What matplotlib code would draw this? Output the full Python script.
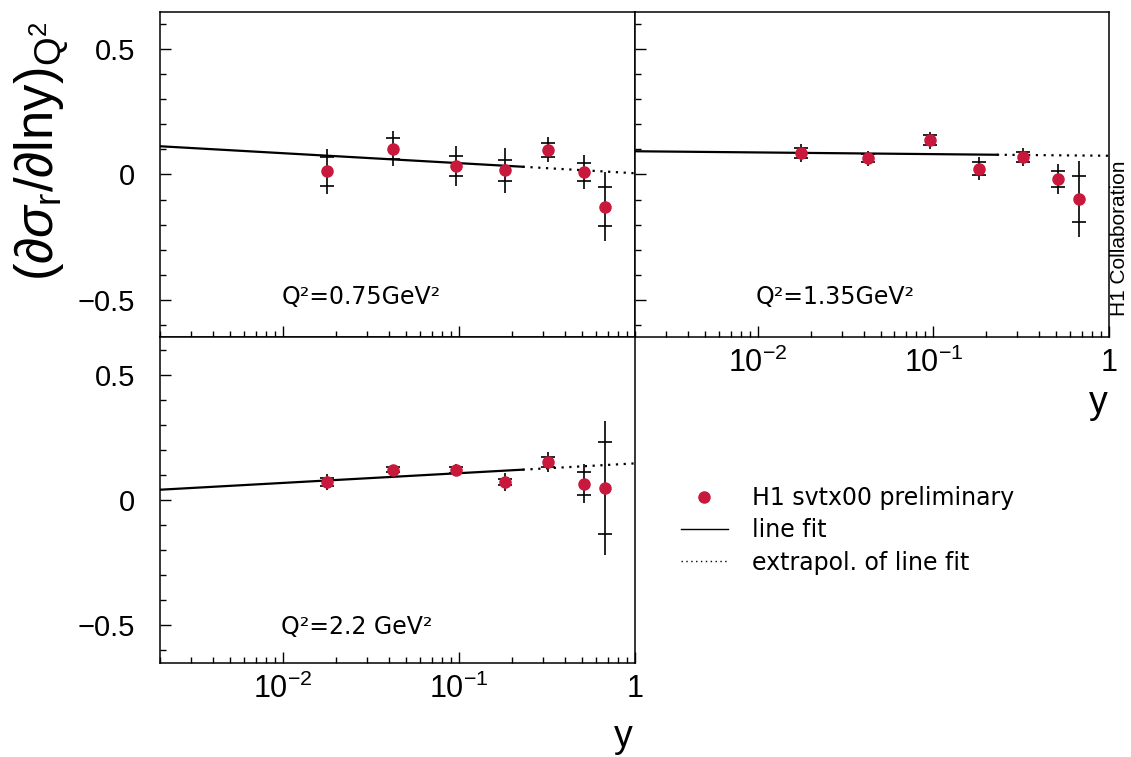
import matplotlib
matplotlib.use('Agg')
import matplotlib.pyplot as plt
from matplotlib.ticker import MultipleLocator, FixedLocator, FixedFormatter
from matplotlib.lines import Line2D

plt.rcParams['font.family'] = ['Liberation Sans', 'DejaVu Sans']
plt.rcParams['mathtext.fontset'] = 'custom'
plt.rcParams['mathtext.rm'] = 'Liberation Sans'
plt.rcParams['mathtext.it'] = 'Liberation Sans:italic'

RED = '#c8193c'

# y bin centres (same for all Q2 panels)
y_bins = [0.0177, 0.0423, 0.0957, 0.182, 0.322, 0.514, 0.674]

q2_labels = ['Q²=0.75GeV²', 'Q²=1.35GeV²', 'Q²=2.2 GeV²']

slope_075 = [0.012, 0.103, 0.035, 0.016, 0.099, 0.011, -0.128]
stat_075 = [0.058, 0.043, 0.040, 0.043, 0.028, 0.036, 0.077]
tot_075 = [0.090, 0.070, 0.080, 0.090, 0.050, 0.068, 0.137]

slope_135 = [0.085, 0.065, 0.137, 0.023, 0.071, -0.019, -0.099]
stat_135 = [0.020, 0.015, 0.020, 0.025, 0.020, 0.033, 0.091]
tot_135 = [0.037, 0.030, 0.034, 0.045, 0.036, 0.060, 0.151]

slope_22 = [0.072, 0.121, 0.120, 0.072, 0.153, 0.065, 0.048]
stat_22 = [0.015, 0.010, 0.012, 0.013, 0.020, 0.046, 0.182]
tot_22 = [0.031, 0.020, 0.025, 0.037, 0.040, 0.078, 0.268]

# line fit: read at y = 0.002, end of fit range, 1
fit_x = [0.002, 0.23, 1.0]
fit_075 = [0.113, 0.031, 0.005]
fit_135 = [0.093, 0.079, 0.075]
fit_22 = [0.041, 0.121, 0.146]

yticks = [-0.5, 0, 0.5]
yticklabels = ['\u22120.5', '0', '0.5']
xticks = [0.01, 0.1, 1]
xticklabels = ['$10^{-2}$', '$10^{-1}$', '1']


def style_axis(ax, xlabels=True, ylabels=True):
    ax.set_xscale('log')
    ax.set_xlim(0.002, 1)
    ax.set_ylim(-0.65, 0.65)
    ax.yaxis.set_major_locator(FixedLocator(yticks))
    ax.yaxis.set_major_formatter(FixedFormatter(yticklabels))
    ax.yaxis.set_minor_locator(MultipleLocator(0.1))
    ax.xaxis.set_major_locator(FixedLocator(xticks))
    ax.xaxis.set_major_formatter(FixedFormatter(xticklabels))
    ax.tick_params(which='both', direction='in', top=False, right=False, width=1)
    ax.tick_params(which='major', length=8)
    ax.tick_params(which='minor', length=4)
    ax.tick_params(axis='y', which='major', pad=18, labelsize=21)
    ax.tick_params(axis='x', which='major', pad=8, labelsize=22)
    if not xlabels:
        ax.tick_params(axis='x', labelbottom=False)
    if not ylabels:
        ax.tick_params(axis='y', labelleft=False)
    for s in ax.spines.values():
        s.set_linewidth(1.1)


def draw_panel(ax, vals, stat, tot, fit, label, text_y):
    ax.errorbar(y_bins, vals, yerr=tot, fmt='none', ecolor='black',
                elinewidth=1.2, capsize=0, zorder=2)
    ax.errorbar(y_bins, vals, yerr=stat, fmt='none', ecolor='black',
                elinewidth=0, capsize=5, capthick=1.2, zorder=2)
    ax.plot(y_bins, vals, 'o', color=RED, markersize=8, zorder=3)
    ax.plot(fit_x[:2], fit[:2], '-', color='black', lw=1.6, zorder=1)
    ax.plot(fit_x[1:], fit[1:], color='black', lw=1.6,
            linestyle=(0, (1, 2.5)), zorder=1)
    ax.text(0.255, text_y, label, transform=ax.transAxes, fontsize=17,
            family=['DejaVu Sans'], va='center', ha='left')


fig = plt.figure(figsize=(11.31, 7.57), dpi=100)
ax1 = fig.add_axes([0.14147, 0.55482, 0.41999, 0.42933])
ax2 = fig.add_axes([0.56146, 0.55482, 0.41910, 0.42933])
ax3 = fig.add_axes([0.14147, 0.12417, 0.41999, 0.43065])

style_axis(ax1, xlabels=False, ylabels=True)
style_axis(ax2, xlabels=True, ylabels=False)
style_axis(ax3, xlabels=True, ylabels=True)

draw_panel(ax1, slope_075, stat_075, tot_075, fit_075, q2_labels[0], 0.123)
draw_panel(ax2, slope_135, stat_135, tot_135, fit_135, q2_labels[1], 0.123)
draw_panel(ax3, slope_22, stat_22, tot_22, fit_22, q2_labels[2], 0.11)

ax3.text(0.975, -0.228, 'y', transform=ax3.transAxes, fontsize=27,
         ha='center', va='center')
ax2.text(0.977, -0.203, 'y', transform=ax2.transAxes, fontsize=27,
         ha='center', va='center')

fig.text(0.036, 0.80, r'$(\partial\sigma_{\mathrm{r}}/\partial\mathrm{lny})_{\mathrm{Q^2}}$',
         rotation=90, fontsize=38, ha='center', va='center')

fig.text(0.9898, 0.685, 'H1 Collaboration', rotation=90, fontsize=15,
         ha='center', va='center')

handles = [
    Line2D([], [], marker='o', color=RED, linestyle='none', markersize=8),
    Line2D([], [], color='black', lw=1.0),
    Line2D([], [], color='black', lw=1.0, linestyle=(0, (1, 2.5))),
]
fig.legend(handles, ['H1 svtx00 preliminary', 'line fit', 'extrapol. of line fit'],
           loc='upper left', bbox_to_anchor=(0.602, 0.358), frameon=False,
           prop={'family': 'DejaVu Sans', 'size': 17},
           handlelength=2.0, handletextpad=1.0, labelspacing=0.35,
           borderpad=0, borderaxespad=0)

fig.savefig('out.png', dpi=100)
